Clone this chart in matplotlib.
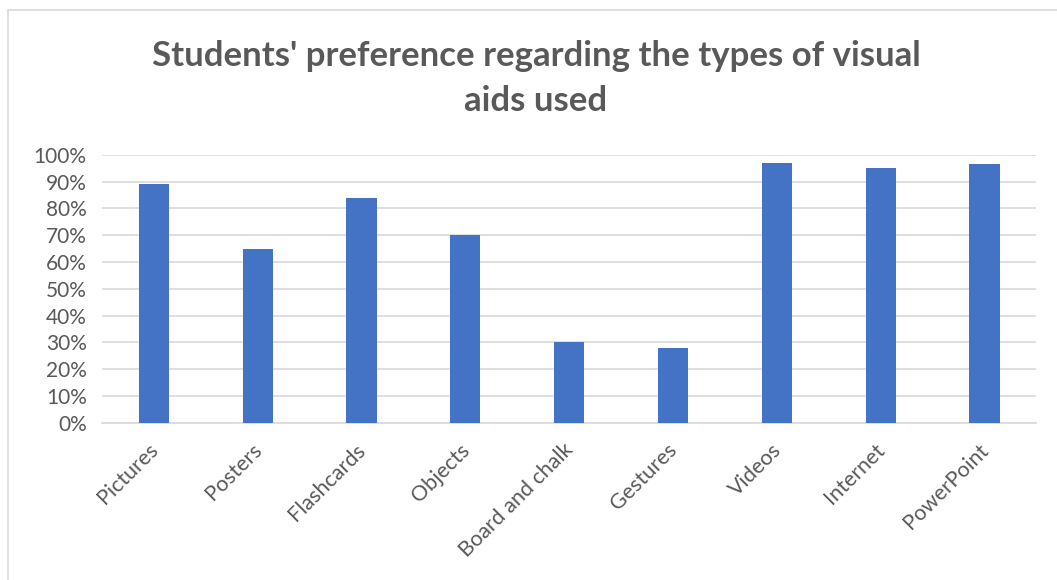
import matplotlib.pyplot as plt
from matplotlib.patches import Rectangle
from matplotlib.ticker import PercentFormatter
from matplotlib.transforms import ScaledTranslation

categories = ['Pictures', 'Posters', 'Flashcards', 'Objects', 'Board and chalk',
              'Gestures', 'Videos', 'Internet', 'PowerPoint']
preference = [0.89, 0.65, 0.84, 0.70, 0.30, 0.28, 0.97, 0.95, 0.965]

text_grey = '#595959'
plt.rcParams['font.family'] = ['Lato', 'DejaVu Sans']

fig = plt.figure(figsize=(10.57, 5.80), dpi=100)
ax = fig.add_axes([0.0965, 0.271, 0.884, 0.462])

# chart outline, runs off the right and bottom edge
fig.patches.append(Rectangle((8 / 1057, -0.1), 1.2, 1 - 10 / 580 + 0.1,
                             transform=fig.transFigure, fill=False,
                             edgecolor='#d9d9d9', linewidth=1.2))

x = range(len(categories))
ax.bar(x, preference, width=0.29, color='#4472c4', zorder=3)

ax.set_xlim(-0.5, len(categories) - 0.5)
ax.set_ylim(0, 1)
ax.set_yticks([i / 10 for i in range(11)])
ax.yaxis.set_major_formatter(PercentFormatter(1.0, decimals=0))
ax.grid(axis='y', color='#d9d9d9', linewidth=1.2, zorder=0)
for s in ['top', 'right', 'left']:
    ax.spines[s].set_visible(False)
ax.spines['bottom'].set_color('#d9d9d9')
ax.spines['bottom'].set_linewidth(1.2)
ax.tick_params(length=0, colors=text_grey, labelsize=15)
ax.tick_params(axis='y', pad=11)

ax.set_xticks(list(x))
ax.set_xticklabels(categories, rotation=45, ha='right', va='top',
                   rotation_mode='anchor', fontsize=15.5)
shift = ScaledTranslation(-0.06, -0.12, fig.dpi_scale_trans)
for lbl in ax.get_xticklabels():
    lbl.set_transform(lbl.get_transform() + shift)

fig.text(0.507, 0.865, "Students' preference regarding the types of visual\naids used",
         ha='center', va='center', fontsize=25, fontweight='bold',
         color=text_grey, linespacing=1.5)

fig.savefig('out.png', dpi=100)
